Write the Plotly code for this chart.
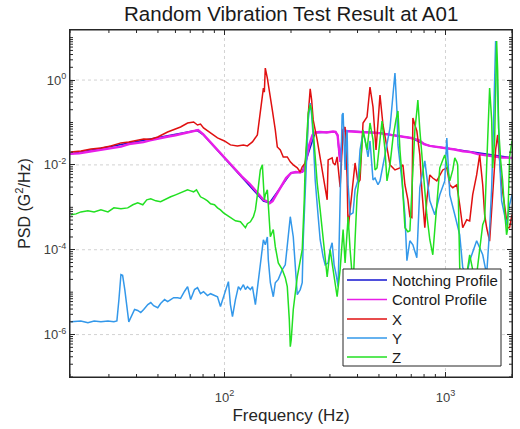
import plotly.graph_objects as go

# ---- data: (frequency [Hz], PSD [G^2/Hz]) ----
NOTCH_PROFILE = [
    (20, 0.018), (75, 0.065), (80, 0.052), (150, 0.0014), (160, 0.00128),
    (200, 0.0065), (225, 0.0068), (257, 0.057), (318, 0.06), (325, 0.05),
    (330, 0.02), (334, 0.012), (340, 0.03), (345, 0.064), (500, 0.057),
    (700, 0.043), (800, 0.031), (850, 0.028), (1000, 0.025), (2000, 0.0146),
]

CONTROL_PROFILE = [
    (20, 0.0182), (22, 0.0188), (25, 0.021), (28, 0.0232), (31, 0.0255), (34, 0.027),
    (37, 0.031), (40, 0.033), (43, 0.0345), (46, 0.038), (50, 0.042), (55, 0.046),
    (60, 0.05), (65, 0.055), (70, 0.059), (73, 0.064), (76, 0.066), (80, 0.053),
    (85, 0.038), (90, 0.0265), (95, 0.0199), (100, 0.0149), (110, 0.0087), (120, 0.0053),
    (130, 0.0036), (140, 0.0023), (145, 0.0018), (150, 0.0015), (155, 0.0014),
    (160, 0.00125), (165, 0.0014), (170, 0.0018), (180, 0.003), (190, 0.0049),
    (200, 0.0064), (210, 0.0068), (220, 0.0066), (228, 0.0072), (235, 0.014),
    (242, 0.03), (250, 0.05), (257, 0.058), (270, 0.06), (290, 0.058), (310, 0.061),
    (318, 0.06), (325, 0.05), (330, 0.02), (334, 0.012), (340, 0.03), (345, 0.066),
    (360, 0.062), (400, 0.059), (450, 0.058), (500, 0.056), (550, 0.052), (600, 0.049),
    (650, 0.046), (700, 0.043), (760, 0.038), (800, 0.031), (850, 0.028), (900, 0.027),
    (1000, 0.025), (1100, 0.023), (1200, 0.021), (1300, 0.02), (1400, 0.018),
    (1500, 0.017), (1600, 0.0162), (1700, 0.0155), (1800, 0.015), (1900, 0.0148),
    (2000, 0.0146),
]

X_RESPONSE = [
    (20.2, 0.0202), (22.4, 0.0213), (24.9, 0.0238), (27.6, 0.0251), (30.6, 0.028),
    (34.0, 0.033), (36.9, 0.0348), (40.5, 0.0388), (43.1, 0.041), (46.4, 0.0405),
    (49.9, 0.0456), (55.3, 0.0597), (60.1, 0.0703), (63.3, 0.0784), (68.1, 0.0973),
    (72.5, 0.103), (75.5, 0.0873), (77.9, 0.092), (80.4, 0.0743), (86.5, 0.0566),
    (93.0, 0.0432), (100, 0.0367), (106.4, 0.0296), (114.4, 0.028), (121.8, 0.0296),
    (127, 0.028), (133.8, 0.0348), (140.9, 0.0508), (145.3, 0.167), (148.4, 0.444),
    (150, 0.648), (151.5, 0.52), (153, 1.92), (156.3, 1.11), (161.3, 0.338),
    (164.6, 0.197), (169.8, 0.0666), (173.4, 0.0265), (178.9, 0.0225), (184.5, 0.0154),
    (192.4, 0.0154), (198.5, 0.0118), (204.8, 0.01), (213.5, 0.0085), (220.2, 0.0068),
    (224.8, 0.009), (232, 0.0111), (236.8, 0.0388), (239.3, 0.15), (244.3, 0.62),
    (248, 0.338), (252, 0.115), (262.7, 0.0388), (271, 0.0154), (279.6, 0.0058),
    (285.5, 0.0026), (291.5, 0.0015), (294.5, 0.0131), (307, 0.0146), (310.2, 0.0111),
    (316.7, 0.01), (323.4, 0.0154), (330.2, 0.0052), (333.7, 0.003), (344.2, 0.0666),
    (351.4, 0.0784), (358.8, 0.0052), (362.6, 0.0003), (370.2, 0.00087), (381.9, 0.0044),
    (389.9, 0.0111), (402.2, 0.0038), (410.6, 0.0044), (423.6, 0.0973), (441.6, 0.135),
    (455.5, 0.685), (470, 0.232), (485, 0.0225), (505.5, 0.444), (521.6, 0.0873),
    (543.7, 0.0225), (561, 0.01), (590.8, 0.0076), (622.3, 0.0085), (642, 0.01),
    (655.4, 0.0034), (676.1, 0.0015), (690.2, 0.0006), (704.7, 0.00057), (712, 0.128),
    (727, 0.0873), (742, 0.0631), (765.6, 0.0172), (781.7, 0.0026), (806.4, 0.00033),
    (823, 0.0015), (849.5, 0.0058), (876, 0.0049), (913.5, 0.0042), (942.6, 0.0058),
    (972, 0.0076), (1014, 0.0085), (1046, 0.0034), (1079, 0.0029), (1125, 0.0034),
    (1160, 0.00115), (1197, 0.00033), (1248, 0.00051), (1287, 0.00048), (1328, 0.002),
    (1356, 0.0034), (1384, 0.0058), (1428, 0.0172), (1474, 0.0034), (1504, 0.00067),
    (1536, 0.00033), (1584, 0.00016), (1635, 0.0015), (1686, 0.0225), (1722, 0.0508),
    (1758, 0.0131), (1795, 0.0034), (1850, 0.00115), (1910, 0.00033), (1950, 0.00033),
    (2000, 0.00067),
]

Y_RESPONSE = [
    (20.2, 2.0e-6), (22.4, 2.1e-6), (24.1, 1.9e-6), (25.7, 2.1e-6), (27.6, 2.0e-6),
    (29.7, 2.1e-6), (31.6, 2.0e-6), (32.6, 2.1e-6), (33.3, 6.7e-6), (34.0, 2.6e-5),
    (34.6, 2.5e-5), (35.4, 1.15e-5), (36.9, 2.0e-6), (38.1, 3.0e-6), (39.2, 3.9e-6),
    (40.5, 3.7e-6), (41.8, 3.3e-6), (43.1, 3.9e-6), (45.0, 5.1e-6), (46.4, 5.7e-6),
    (47.8, 4.8e-6), (49.9, 4.3e-6), (51.4, 5.4e-6), (53.6, 6.7e-6), (55.3, 6.0e-6),
    (57.1, 6.7e-6), (58.9, 7.4e-6), (61.4, 7.4e-6), (63.3, 7.1e-6), (66.0, 1.05e-5),
    (68.1, 1.35e-5), (70.3, 6.7e-6), (73.2, 1.15e-5), (75.5, 1.28e-5), (77.9, 9.2e-6),
    (80.4, 1.03e-5), (83.8, 8.3e-6), (86.5, 9.2e-6), (90.1, 8.3e-6), (93.0, 7.8e-6),
    (95.9, 4.6e-6), (99.0, 7.8e-6), (102, 1.15e-5), (104.2, 1.77e-5), (106.4, 5.1e-6),
    (108.7, 2.65e-6), (112.1, 6.7e-6), (115.6, 1.35e-5), (118.1, 1.15e-5), (121.8, 1.5e-5),
    (124.4, 1.15e-5), (127, 1.35e-5), (131, 1.15e-5), (133.8, 1.35e-5), (138, 5.1e-6),
    (142.4, 2.0e-5), (145.3, 4.4e-5), (150, 1.72e-4), (153, 1.31e-4), (156.3, 2.0e-4),
    (157.9, 5.8e-5), (161.3, 1.67e-5), (166.3, 7.8e-6), (169.8, 1.67e-5), (175.2, 2.0e-5),
    (182.6, 3.4e-5), (188.4, 4.4e-5), (194.4, 1.72e-4), (198.5, 6.0e-4), (204.8, 2.0e-4),
    (213.5, 8.7e-6), (220.2, 1.15e-5), (224.8, 1.67e-5), (227.2, 1.72e-4), (232, 2.6e-3),
    (236.8, 0.0225), (239.3, 0.115), (244.3, 0.288), (248, 0.15), (252, 0.0456),
    (257.3, 0.0044), (265.5, 6.0e-4), (271, 1.72e-4), (279.6, 6.8e-5), (285.5, 4.4e-5),
    (294.5, 4.9e-5), (300.7, 1.0e-4), (307, 1.46e-4), (313.4, 4.4e-5), (320.1, 2.6e-5),
    (326.8, 1.35e-5), (333.7, 1.5e-3), (340.7, 0.15), (344.2, 0.167), (347.8, 0.0225),
    (351.4, 0.0076), (355, 0.0388), (358.8, 0.0666), (362.6, 0.0034), (370.2, 6.7e-4),
    (381.9, 7.4e-4), (389.9, 2.6e-3), (402.2, 4.4e-3), (410.6, 0.0225), (423.6, 0.0566),
    (432.5, 0.0388), (446.2, 0.0154), (455.5, 0.0367), (470, 4.4e-3), (479.9, 4.9e-3),
    (495, 3.4e-3), (505.5, 4.2e-3), (532.5, 0.0172), (561, 0.0743), (578.7, 0.444),
    (590.8, 1.46), (603, 0.197), (609.5, 0.0296), (635.3, 4.2e-3), (655.4, 6.7e-4),
    (669.2, 5.5e-5), (690.2, 1.63e-4), (712, 1.31e-4), (742, 6.5e-5), (765.6, 2.9e-3),
    (806.4, 0.0124), (849.5, 1.42e-3), (894.7, 6.7e-4), (942.6, 1.97e-3), (992.7, 4.2e-3),
    (1014, 0.0432), (1046, 1.97e-3), (1102, 6.7e-4), (1160, 2.25e-4), (1197, 3.8e-5),
    (1248, 2.6e-5), (1287, 5.5e-5), (1384, 1.63e-4), (1474, 7.6e-5), (1536, 2.6e-5),
    (1584, 3.0e-4), (1618, 2.9e-3), (1652, 0.115), (1686, 8.27), (1704, 2.95),
    (1722, 0.444), (1758, 0.0131), (1795, 1.42e-3), (1850, 6.7e-4), (1890, 3.9e-4),
    (1950, 1.15e-3), (2000, 1.97e-3),
]

Z_RESPONSE = [
    (20.2, 0.00067), (21.3, 0.0007), (22.4, 0.00078), (24.1, 0.00083), (25.7, 0.00078),
    (27.6, 0.00087), (29.7, 0.00078), (31.6, 0.00097), (34.0, 0.00092), (36.5, 0.00097),
    (38.5, 0.00115), (40.5, 0.00128), (42.7, 0.00115), (44.5, 0.0015), (46.4, 0.00158),
    (48.9, 0.00142), (51.4, 0.00135), (54.2, 0.00158), (57.1, 0.00177), (60.1, 0.00197),
    (63.3, 0.00219), (66.7, 0.00244), (68.1, 0.00258), (70.3, 0.00244), (72.5, 0.00232),
    (74.7, 0.00258), (77.9, 0.00177), (81.2, 0.00158), (83.8, 0.00142), (86.5, 0.00121),
    (90.1, 0.00115), (93.0, 0.00097), (95.9, 0.00087), (99.0, 0.00074), (103.2, 0.00063),
    (106.4, 0.00057), (112.1, 0.00048), (118.1, 0.000456), (121.8, 0.000367),
    (124.4, 0.00033), (127, 0.00041), (131, 0.000456), (135.2, 0.0006), (138, 0.00087),
    (140.9, 0.00197), (142.4, 0.00338), (145.3, 0.0076), (148.4, 0.01), (150, 0.0044),
    (151.5, 0.0015), (153, 0.00197), (156.3, 0.00258), (157.9, 0.00115), (161.3, 0.000202),
    (166.3, 0.0003), (169.8, 0.000118), (175.2, 4.9e-5), (182.6, 3.4e-5), (188.4, 2.2e-5),
    (192.4, 1.35e-5), (196.5, 2.25e-6), (198.5, 5.2e-7), (200.5, 7.6e-7), (204.8, 3.9e-6),
    (213.5, 2.3e-5), (220.2, 5.2e-5), (224.8, 1.0e-4), (229.6, 0.0015), (232, 0.0111),
    (236.8, 0.0666), (239.3, 0.167), (244.3, 0.258), (248, 0.197), (252, 0.0666),
    (257.3, 0.0131), (262.7, 0.00377), (271, 0.00087), (276.7, 0.0003), (285.5, 7.6e-5),
    (291.5, 2.3e-5), (300.7, 1.0e-4), (310.2, 3.4e-5), (316.7, 1.5e-5), (323.4, 7.8e-6),
    (333.7, 3.4e-5), (340.7, 0.000172), (344.2, 0.0003), (351.4, 4.9e-5), (358.8, 0.0003),
    (362.6, 0.0006), (370.2, 1.0e-4), (381.9, 1.35e-5), (389.9, 0.000172), (398, 0.00177),
    (410.6, 0.0076), (423.6, 0.0666), (432.5, 0.0388), (441.6, 0.0225), (455.5, 0.0973),
    (470, 0.0388), (479.9, 0.0076), (490, 0.0085), (505.5, 0.0388), (516.2, 0.108),
    (532.5, 0.0225), (543.7, 0.0042), (561, 0.01), (578.7, 0.0432), (597, 0.115),
    (609.5, 0.187), (622.3, 0.0225), (635.3, 0.0058), (655.4, 0.00033), (676, 0.000265),
    (690.2, 0.00028), (712, 0.0049), (727, 0.0666), (742.2, 0.187), (749.9, 0.338),
    (765.6, 0.0666), (781.7, 0.0172), (806.4, 0.00197), (823.3, 0.00067), (849.5, 0.000172),
    (876.3, 7.6e-5), (894.7, 0.0003), (913.5, 0.00142), (942.6, 0.0085), (972.3, 0.0131),
    (992.7, 0.0172), (1024, 0.0076), (1046, 0.0042), (1079, 0.0076), (1102, 0.0146),
    (1125, 0.0118), (1136, 0.01), (1160, 3.8e-5), (1197, 1.5e-5), (1248, 2.6e-5),
    (1287, 7.6e-5), (1328, 3.4e-5), (1384, 2.6e-5), (1428, 1.0e-4), (1474, 0.00039),
    (1504, 0.00051), (1536, 0.0111), (1584, 0.648), (1618, 0.115), (1635, 0.0085),
    (1669, 0.0388), (1704, 8.27), (1722, 1.72), (1740, 0.0743), (1776, 0.0131),
    (1814, 0.0042), (1850, 0.00087), (1890, 0.000225), (1910, 0.0003), (1950, 0.0154),
    (2000, 0.0367),
]

SERIES = [
    ("Notching Profile", NOTCH_PROFILE, "#1515d0", 1.5),
    ("Control Profile", CONTROL_PROFILE, "#e81ee8", 2.4),
    ("X", X_RESPONSE, "#e01010", 1.5),
    ("Y", Y_RESPONSE, "#3398ea", 1.5),
    ("Z", Z_RESPONSE, "#22e022", 1.5),
]

X_TICKS = [100, 1000]
X_TICK_TEXT = ["10<sup>2</sup>", "10<sup>3</sup>"]
Y_TICKS = [1e-6, 1e-4, 1e-2, 1]
Y_TICK_TEXT = ["10<sup>-6</sup>", "10<sup>-4</sup>", "10<sup>-2</sup>", "10<sup>0</sup>"]
X_RANGE = (20, 2000)
Y_RANGE_LOG = (-7, 1.18)

FONT = "Liberation Sans, Arial, Helvetica, sans-serif"
AXIS_COLOR = "#262626"
GRID_COLOR = "#d2d2d2"

fig = go.Figure()
for name, pts, color, width in SERIES:
    f, p = zip(*pts)
    fig.add_trace(go.Scatter(x=list(f), y=list(p), mode="lines", name=name,
                             showlegend=False, line=dict(color=color, width=width)))

shapes = []
# dotted grid at the labelled decades
for v in X_TICKS:
    shapes.append(dict(type="line", xref="x", yref="paper", x0=v, x1=v, y0=0, y1=1,
                       layer="below", line=dict(color=GRID_COLOR, width=1, dash="dot")))
for v in Y_TICKS:
    shapes.append(dict(type="line", xref="paper", yref="y", x0=0, x1=1, y0=v, y1=v,
                       layer="below", line=dict(color=GRID_COLOR, width=1, dash="dot")))

# minor tick marks on all four sides (MATLAB-style box)
x_minor = [k * 10 ** e for e in (1, 2, 3) for k in range(2, 10)
           if X_RANGE[0] <= k * 10 ** e <= X_RANGE[1] and k * 10 ** e not in X_TICKS]
y_minor = [k * 10.0 ** e for e in range(-7, 2) for k in range(1, 10)
           if all(abs(k * 10.0 ** e - t) / t > 1e-9 for t in Y_TICKS)
           and 10 ** Y_RANGE_LOG[0] <= k * 10.0 ** e <= 10 ** Y_RANGE_LOG[1]]
PX_W, PX_H = 442, 347
for v in x_minor:
    for y0, y1 in ((0, 3 / PX_H), (1, 1 - 3 / PX_H)):
        shapes.append(dict(type="line", xref="x", yref="paper", x0=v, x1=v, y0=y0, y1=y1,
                           layer="above", line=dict(color=AXIS_COLOR, width=1)))
for v in y_minor:
    for x0, x1 in ((0, 3 / PX_W), (1, 1 - 3 / PX_W)):
        shapes.append(dict(type="line", xref="paper", yref="y", x0=x0, x1=x1, y0=v, y1=v,
                           layer="above", line=dict(color=AXIS_COLOR, width=1)))

# legend box with line samples
LEG_X0, LEG_X1, LEG_Y0, LEG_Y1 = 343, 501, 269, 366
ROW_Y = [280, 299.5, 319, 338, 357]


def px(x):
    return (x - 70) / PX_W


def py(y):
    return (377 - y) / PX_H


shapes.append(dict(type="rect", xref="paper", yref="paper", x0=px(LEG_X0), x1=px(LEG_X1),
                   y0=py(LEG_Y1), y1=py(LEG_Y0), layer="above", fillcolor="white",
                   line=dict(color=AXIS_COLOR, width=1)))
annotations = []
for (name, _, color, _w), ry in zip(SERIES, ROW_Y):
    shapes.append(dict(type="line", xref="paper", yref="paper", x0=px(347), x1=px(387),
                       y0=py(ry), y1=py(ry), layer="above", line=dict(color=color, width=1.5)))
    annotations.append(dict(text=name, xref="paper", yref="paper", x=px(390), y=py(ry),
                            xanchor="left", yanchor="middle", showarrow=False,
                            font=dict(size=15, color="#1a1a1a", family=FONT)))

# axes frame
shapes.append(dict(type="rect", xref="paper", yref="paper", x0=0, x1=1, y0=0, y1=1,
                   layer="above", line=dict(color=AXIS_COLOR, width=1)))

axis_common = dict(
    type="log", showline=True, linecolor=AXIS_COLOR, linewidth=1, mirror="ticks",
    ticks="inside", ticklen=5, tickcolor=AXIS_COLOR, tickwidth=1,
    showgrid=False, zeroline=False, tickfont=dict(size=13, color="#404040", family=FONT),
    tickmode="array",
)

fig.update_layout(
    template="none",
    width=520, height=429,
    margin=dict(l=70, r=8, t=30, b=52),
    paper_bgcolor="white", plot_bgcolor="white",
    font=dict(family=FONT, color="#262626"),
    title=dict(text="Random Vibration Test Result at A01", x=0.56, xanchor="center",
               y=0.967, yanchor="middle", font=dict(size=20.5, color="#1a1a1a", family=FONT)),
    xaxis=dict(axis_common, range=[0.30103 + 1, 0.30103 + 3], tickvals=X_TICKS,
               ticktext=X_TICK_TEXT, ticklabelstandoff=8,
               title=dict(text="Frequency (Hz)", font=dict(size=17, color="#262626"), standoff=5)),
    yaxis=dict(axis_common, range=list(Y_RANGE_LOG), tickvals=Y_TICKS, ticktext=Y_TICK_TEXT,
               title=dict(text="PSD (G<sup>2</sup>/Hz)", font=dict(size=16, color="#262626"),
                          standoff=9)),
    shapes=shapes,
    annotations=annotations,
    showlegend=False,
)

fig.write_html("out.html")
